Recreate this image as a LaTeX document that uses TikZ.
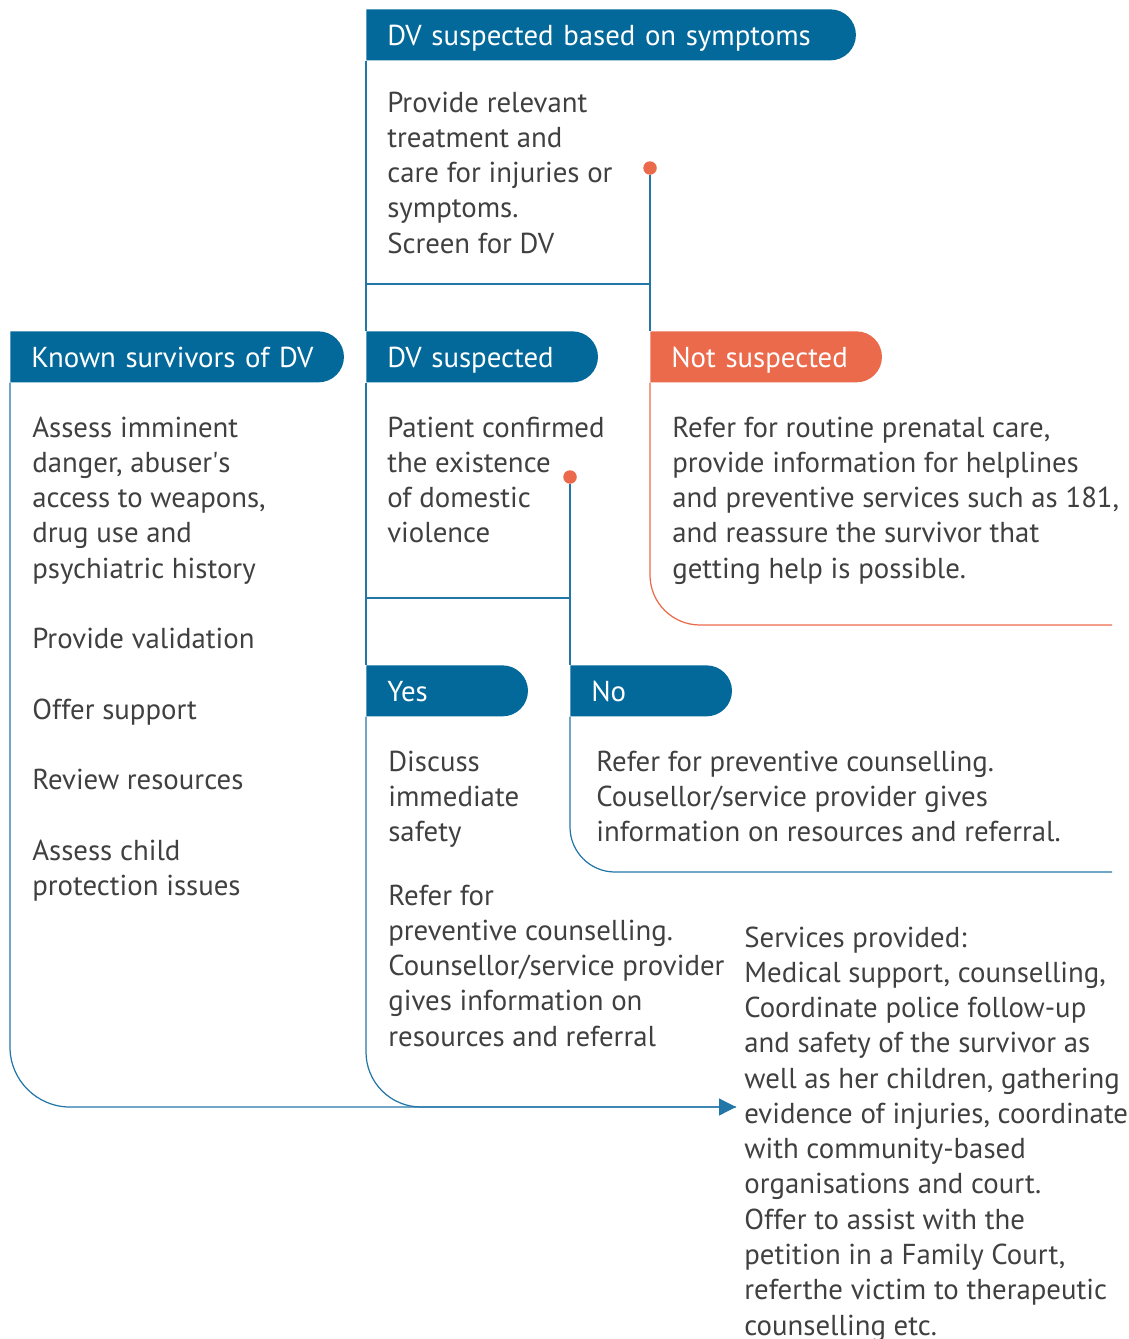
\documentclass[tikz,border=0pt]{standalone}
\usepackage{fontspec}
\setmainfont{PT Sans}
\usetikzlibrary{shapes.misc,arrows.meta}

\definecolor{dvblue}{RGB}{3,105,155}
\definecolor{dvline}{RGB}{35,118,168}
\definecolor{dvorange}{RGB}{235,106,75}
\definecolor{dvtext}{RGB}{64,64,64}

\begin{document}
\begin{tikzpicture}[x=0.02cm, y=-0.02cm,
    every node/.style={font=\fontsize{16.4}{20.07}\selectfont, text=dvtext, inner sep=0pt},
    tab/.style={rounded rectangle, rounded rectangle left arc=none, fill=#1, text=white,
        minimum height=1.02cm, inner xsep=0.42cm, text height=13pt, text depth=1pt,
        align=left, anchor=north west},
    body/.style={align=left, anchor=north west, yshift=11.8pt, execute at begin node=\strut},
    link/.style={draw=dvline, line width=0.7pt},
    dot/.style={circle, fill=dvorange, minimum size=0.27cm}]
    \useasboundingbox (0,0) rectangle (1129,1339);

    % Headers
    \node[tab=dvblue, text width=8.89cm] (sym) at (366,9) {DV suspected based on symptoms};
    \node[tab=dvblue, text width=5.77cm] (known) at (10,331) {Known survivors of DV};
    \node[tab=dvblue, text width=3.73cm] (dvs) at (366,331) {DV suspected};
    \node[tab=dvorange, text width=3.73cm] (nots) at (650,331) {Not suspected};
    \node[tab=dvblue, text width=2.33cm] (yes) at (366,665) {Yes};
    \node[tab=dvblue, text width=2.33cm] (no) at (570,665) {No};

    % Branch points
    \node[dot] (d1) at (650,168) {};
    \node[dot] (d2) at (570,477) {};
    \coordinate (j1) at (650,284);
    \coordinate (j2) at (570,598);
    \coordinate (tip) at (736,1107);
    \coordinate (endns) at (1112,625);
    \coordinate (endno) at (1112,872);

    % Connectors
    \draw[link] (sym.south west) -- (dvs.north west);
    \draw[link] (dvs.south west) -- (yes.north west);
    \draw[link] (sym.south west |- j1) -- (j1);
    \draw[link] (d1) -- (nots.north west);
    \draw[link] (dvs.south west |- j2) -- (j2);
    \draw[link] (d2) -- (no.north west);
    \draw[link, rounded corners=1.1cm] (yes.south west) |- (tip);
    \draw[link, rounded corners=1.2cm, -{Triangle[length=0.34cm, width=0.34cm]}]
        (known.south west) |- (tip);
    \draw[draw=dvorange, line width=0.7pt, rounded corners=1cm] (nots.south west) |- (endns);
    \draw[link, rounded corners=0.9cm] (no.south west) |- (endno);

    % Texts
    \node[body] (symtxt) at (387,112) {Provide relevant\\treatment and\\care for injuries or\\symptoms.\\Screen for DV};
    \node[body] (knowntxt) at (32,437) {Assess imminent\\danger, abuser\textquotesingle s\\access to weapons,\\drug use and\\psychiatric history\\[\baselineskip]Provide validation\\[\baselineskip]Offer support\\[\baselineskip]Review resources\\[\baselineskip]Assess child\\protection issues};
    \node[body] (dvstxt) at (387,437) {Patient confirmed\\the existence\\of domestic\\violence};
    \node[body] (notstxt) at (672,437) {Refer for routine prenatal care,\\provide information for helplines\\and preventive services such as 181,\\and reassure the survivor that\\getting help is possible.};
    \node[body] (yestxt) at (388,771) {Discuss\\immediate\\safety};
    \node[body] (yesref) at (388,905) {Refer for\\preventive counselling.\\Counsellor/service provider\\gives information on\\resources and referral};
    \node[body] (notxt) at (596,771) {Refer for preventive counselling.\\Cousellor/service provider gives\\information on resources and referral.};
    \node[body] (services) at (744,947) {Services provided:\\Medical support, counselling,\\Coordinate police follow-up\\and safety of the survivor as\\well as her children, gathering\\evidence of injuries, coordinate\\with community-based\\organisations and court.\\Offer to assist with the\\petition in a Family Court,\\referthe victim to therapeutic\\counselling etc.};
\end{tikzpicture}
\end{document}
